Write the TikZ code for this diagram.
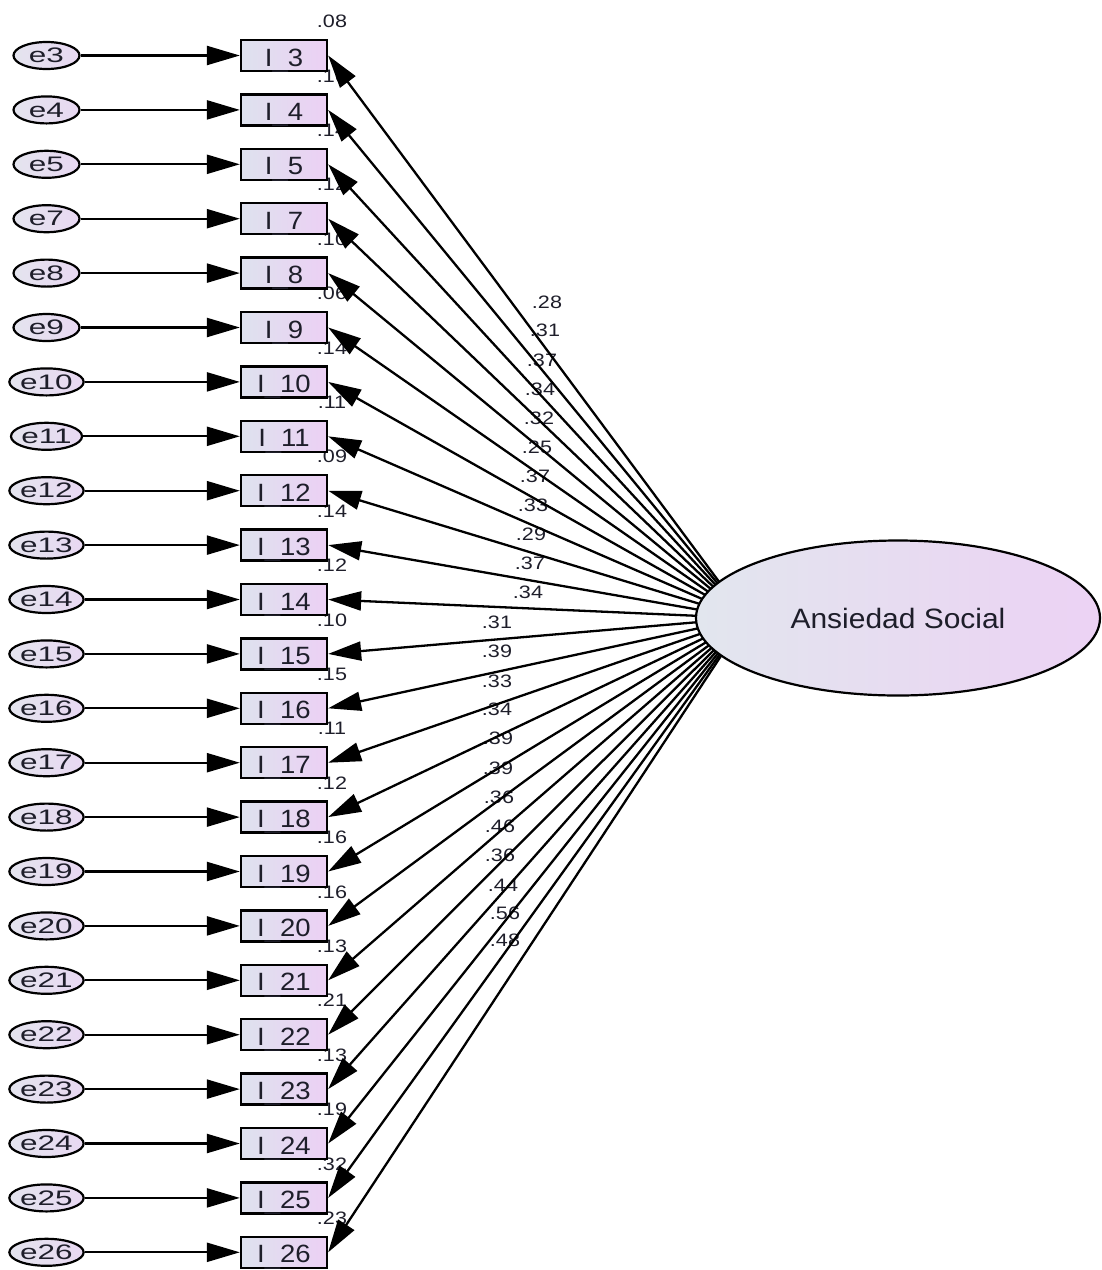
\documentclass[tikz,border=0pt]{standalone}
\usepackage{fontspec}
\setmainfont{Liberation Sans}
\usetikzlibrary{arrows.meta,shapes.geometric}
\definecolor{boxL}{RGB}{222,226,238}
\definecolor{boxR}{RGB}{236,208,244}
\definecolor{elL}{RGB}{226,230,238}
\definecolor{elR}{RGB}{236,210,244}
\definecolor{errL}{RGB}{228,228,238}
\definecolor{errR}{RGB}{232,216,242}
\definecolor{ink}{RGB}{30,30,42}
\newcommand\hstretch[2]{\scalebox{#1}[1]{#2}}
\pgfdeclarelayer{labels}
\pgfdeclarelayer{lines}
\pgfsetlayers{labels,lines,main}
\begin{document}
\begin{tikzpicture}[x=1pt,y=-1pt,
  itembox/.style={draw, line width=2.3pt, rectangle, minimum width=86pt, minimum height=31pt, inner sep=0pt, left color=boxL, right color=boxR},
  itemtxt/.style={anchor=base, inner sep=0pt, text=ink, font=\fontsize{25}{25}\selectfont},
  errnode/.style={draw, line width=2.2pt, ellipse, minimum width=66pt, minimum height=27pt, inner sep=0pt, left color=errL, right color=errR, text=ink, font=\fontsize{21}{21}\selectfont},
  latent/.style={draw, line width=2.2pt, ellipse, minimum width=404pt, minimum height=155pt, inner sep=0pt, left color=elL, right color=elR, text=ink, font=\fontsize{28}{28}\selectfont},
  lbl/.style={inner sep=0pt, text=ink, font=\fontsize{18}{18}\selectfont},
  pathline/.style={line width=2.3pt, -{Triangle[length=33pt,width=19pt]}}
]
\useasboundingbox (0,0) rectangle (1102,1270);

% latent variable and the point its paths aim at
\node[latent] (AS) at (898,618) {\hstretch{1.07}{Ansiedad Social}};
\coordinate (ASf) at (746,618);

% rows: error terms and item boxes
\foreach \n [count=\k from 0] in {3,4,5,7,8,9,10,11,12,13,14,15,16,17,18,19,20,21,22,23,24,25,26}{
  \pgfmathsetmacro\yy{55.5+54.4*\k}
  \node[errnode] (e\n) at (46.5,\yy) {\hstretch{1.5}{e\n}};
  \node[itembox] (I\n) at (284,\yy) {};
  \node[itemtxt] (t\n) at ([yshift=-10.5pt]I\n.center) {\hstretch{1.1}{I\raisebox{-1.2pt}{\_}\n}};
}

\begin{pgfonlayer}{labels}
% squared multiple correlations
\foreach \n/\r [count=\k from 0] in {3/.08,4/.10,5/.14,7/.12,8/.10,9/.06,10/.14,11/.11,12/.09,13/.14,14/.12,15/.10,16/.15,17/.11,18/.12,19/.16,20/.16,21/.13,22/.21,23/.13,24/.19,25/.32,26/.23}{
  \pgfmathsetmacro\yy{55.5+54.4*\k-34}
  \node[lbl] (r\n) at (332,\yy) {\hstretch{1.2}{\r}};
}
% loadings
\foreach \n/\lx/\ly/\v in {3/547/302/.28, 4/545/330/.31, 5/542/360/.37, 7/540/389/.34, 8/539/418/.32, 9/537/447/.25, 10/535/476/.37, 11/533/505/.33, 12/531/534/.29, 13/530/563/.37, 14/528/592/.34, 15/497/622/.31, 16/497/651/.39, 17/497/681/.33, 18/497/709/.34, 19/498/738/.39, 20/498/768/.39, 21/499/797/.36, 22/500/826/.46, 23/500/855/.36, 24/503/885/.44, 25/505/913/.56, 26/505/940/.48}{
  \node[lbl] (l\n) at (\lx,\ly) {\hstretch{1.2}{\v}};
}
\end{pgfonlayer}

% connectors
\foreach \n in {3,4,5,7,8,9,10,11,12,13,14,15,16,17,18,19,20,21,22,23,24,25,26}{
  \draw[pathline] (e\n) -- (I\n);
  \begin{pgfonlayer}{lines}
    \draw[pathline] (ASf) -- (I\n.east);
  \end{pgfonlayer}
}
\end{tikzpicture}
\end{document}
